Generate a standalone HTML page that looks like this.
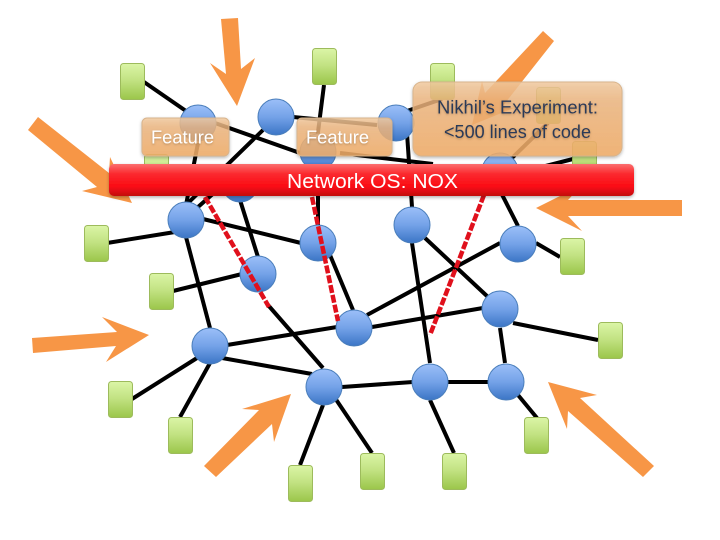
<!DOCTYPE html>
<html><head><meta charset="utf-8">
<style>html,body{margin:0;padding:0;background:#fff;width:720px;height:540px;overflow:hidden}svg{display:block}</style>
</head><body>
<svg width="720" height="540" viewBox="0 0 720 540" xmlns="http://www.w3.org/2000/svg">
<defs>
<linearGradient id="c" x1="0" y1="0" x2="0" y2="1"><stop offset="0" stop-color="#9bbff8"/><stop offset=".5" stop-color="#74a2e8"/><stop offset="1" stop-color="#3b75c6"/></linearGradient>
<linearGradient id="g" x1="0" y1="0" x2="0" y2="1"><stop offset="0" stop-color="#dbf5a6"/><stop offset=".45" stop-color="#c3e384"/><stop offset="1" stop-color="#9bc64a"/></linearGradient>
<linearGradient id="r" x1="0" y1="0" x2="0" y2="1"><stop offset="0" stop-color="#fb6f6f"/><stop offset=".3" stop-color="#fb2a30"/><stop offset=".7" stop-color="#fb0c14"/><stop offset="1" stop-color="#c20a10"/></linearGradient>
<linearGradient id="p" x1="0" y1="0" x2="0" y2="1"><stop offset="0" stop-color="#f3cba0" stop-opacity=".82"/><stop offset=".25" stop-color="#efb67e" stop-opacity=".8"/><stop offset="1" stop-color="#f2ad68" stop-opacity=".85"/></linearGradient>
<filter id="s" x="-5%" y="-20%" width="110%" height="150%"><feDropShadow dx="0" dy="1.5" stdDeviation="1.5" flood-color="#000" flood-opacity=".3"/></filter>
<filter id="t" x="-5%" y="-20%" width="110%" height="150%"><feDropShadow dx="0" dy="1" stdDeviation="1" flood-color="#7a5a30" flood-opacity=".5"/></filter>
</defs>

<g fill="#f79646">
<polygon points="221,19 238,18 241,69 255,58 237,106 210,63 226,74"/>
<polygon points="543,31 554,41 502,107 514,108 472,125 482,81 485,93"/>
<polygon points="38,117 109,173 110,157 132,203 82,191 97,187 28,130"/>
<polygon points="682,200 568,200 582,185 536,208 582,231 568,216 682,216"/>
<polygon points="32,338 117,332 102,317 149,335 106,362 116,346 33,353"/>
<polygon points="204,466 259,410 242,409 291,394 274,442 272,424 216,477"/>
<polygon points="654,466 643,477 568,411 567,429 548,382 597,395 580,398"/>
</g>

<g stroke="#000" stroke-width="4" fill="none">
<path d="M144,82L186,111M215,123L300,153M198,143L186,205M263,130L186,205M293,117L377,125M324,85L317,140M340,153L433,164M407,111L442,99M407,133L412,207M512,158L548,123M530,170L573,159M490,171L518,226M318,170L318,225M240,200L258,257M198,207L215,192"/>
<path d="M107,243L175,232M203,219L301,243M186,237L210,328M173,291L242,274M268,305L323,368M330,255L353,310M227,345L337,327M197,358L132,399M210,363L180,417M222,358L312,374M367,315L500,243M372,327L483,308M425,238L488,297M412,243L430,363M536,243L560,257M513,323L598,340M500,328L505,363M342,387L413,382M448,382L488,382M323,405L300,465M335,398L372,453M430,400L454,453M518,395L537,418"/>
</g>

<g fill="url(#g)" stroke="#9dbb5c" stroke-width="1">
<rect x="120.500" y="63.500" width="24" height="36" rx="3"/>
<rect x="312.500" y="48.500" width="24" height="36" rx="3"/>
<rect x="430.500" y="63.500" width="24" height="36" rx="3"/>
<rect x="536.500" y="87.500" width="24" height="36" rx="3"/>
<rect x="572.500" y="141.500" width="24" height="36" rx="3"/>
<rect x="144.500" y="154.500" width="24" height="36" rx="3"/>
<rect x="84.500" y="225.500" width="24" height="36" rx="3"/>
<rect x="149.500" y="273.500" width="24" height="36" rx="3"/>
<rect x="108.500" y="381.500" width="24" height="36" rx="3"/>
<rect x="168.500" y="417.500" width="24" height="36" rx="3"/>
<rect x="288.500" y="465.500" width="24" height="36" rx="3"/>
<rect x="360.500" y="453.500" width="24" height="36" rx="3"/>
<rect x="442.500" y="453.500" width="24" height="36" rx="3"/>
<rect x="524.500" y="417.500" width="24" height="36" rx="3"/>
<rect x="598.500" y="322.500" width="24" height="36" rx="3"/>
<rect x="560.500" y="238.500" width="24" height="36" rx="3"/>
</g>

<g fill="url(#c)" stroke="#4a7ebb" stroke-width="1">
<circle cx="198" cy="123" r="18"/>
<circle cx="276" cy="117" r="18"/>
<circle cx="396" cy="123" r="18"/>
<circle cx="318" cy="152" r="18"/>
<circle cx="500" cy="171" r="18"/>
<circle cx="240" cy="184" r="18"/>
<circle cx="186" cy="220" r="18"/>
<circle cx="318" cy="243" r="18"/>
<circle cx="258" cy="274" r="18"/>
<circle cx="210" cy="346" r="18"/>
<circle cx="354" cy="328" r="18"/>
<circle cx="324" cy="387" r="18"/>
<circle cx="412" cy="225" r="18"/>
<circle cx="518" cy="244" r="18"/>
<circle cx="500" cy="309" r="18"/>
<circle cx="430" cy="382" r="18"/>
<circle cx="506" cy="382" r="18"/>
</g>

<g stroke="#e0101c" stroke-width="4.500" fill="none" stroke-dasharray="8 2">
<path d="M205,197L269,307"/>
<path d="M312,197L338,321"/>
<path d="M484,195L430,335"/>
</g>

<g fill="url(#p)" stroke="#d8b48c" stroke-width="1" filter="url(#s)">
<rect x="142" y="118" width="87" height="38" rx="5"/>
<rect x="297" y="118" width="95" height="38" rx="5"/>
<rect x="413" y="82" width="209" height="74" rx="9"/>
</g>
<g font-family="'Liberation Sans',sans-serif" font-size="18" text-anchor="middle">
<text x="182.500" y="143.500" fill="#fff" textLength="63" lengthAdjust="spacingAndGlyphs" filter="url(#t)">Feature</text>
<text x="337.500" y="143.500" fill="#fff" textLength="63" lengthAdjust="spacingAndGlyphs" filter="url(#t)">Feature</text>
<text x="517.500" y="113.500" fill="#2c3a58" textLength="161" lengthAdjust="spacingAndGlyphs" filter="url(#t)">Nikhil’s Experiment:</text>
<text x="517.500" y="138" fill="#2c3a58" textLength="147" lengthAdjust="spacingAndGlyphs" filter="url(#t)">&lt;500 lines of code</text>
</g>

<rect x="109" y="164" width="525" height="32" rx="5" fill="url(#r)" filter="url(#s)"/>
<text x="372.500" y="188" font-family="'Liberation Sans',sans-serif" font-size="20" fill="#fff" text-anchor="middle" textLength="171" lengthAdjust="spacingAndGlyphs">Network OS: NOX</text>
</svg>
</body></html>
